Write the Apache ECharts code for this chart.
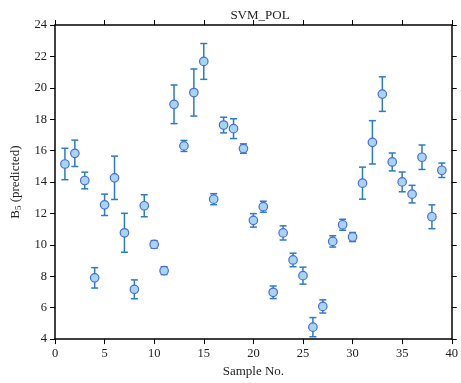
<!DOCTYPE html>
<html><head><meta charset="utf-8">
<script src="https://cdn.jsdelivr.net/npm/echarts@6/dist/echarts.min.js"></script>
<style>html,body{margin:0;padding:0;background:#fff}#c{width:461px;height:383px}</style>
</head><body><div id="c"></div>
<script>
var sampleNo = [1,2,3,4,5,6,7,8,9,10,11,12,13,14,15,16,17,18,19,20,21,22,23,24,25,26,27,28,29,30,31,32,33,34,35,36,37,38,39];
var predicted = [15.15,15.83,14.1,7.9,12.55,14.27,10.77,7.17,12.49,10.03,8.36,18.95,16.3,19.7,21.68,12.91,17.63,17.4,16.13,11.56,12.43,6.98,10.76,9.04,8.04,4.76,6.08,10.22,11.28,10.5,13.93,16.53,19.6,15.28,14.01,13.23,15.58,11.79,14.75];
var errors = [1.0,0.84,0.53,0.65,0.68,1.38,1.24,0.6,0.7,0.24,0.25,1.23,0.35,1.5,1.14,0.35,0.5,0.63,0.3,0.43,0.35,0.4,0.45,0.43,0.54,0.61,0.42,0.36,0.35,0.29,1.02,1.38,1.1,0.57,0.63,0.56,0.78,0.76,0.46];
var xTicks = [0,5,10,15,20,25,30,35,40];
var yTicks = [4,6,8,10,12,14,16,18,20,22,24];

var font = 'Liberation Serif';
var pts = sampleNo.map(function(s,i){return [s,predicted[i]];});
var errData = sampleNo.map(function(s,i){return [s,predicted[i]-errors[i],predicted[i]+errors[i]];});
var chart = echarts.init(document.getElementById('c'), null, {renderer:'canvas'});
var axisCommon = {
  axisLine:{show:true,onZero:false,lineStyle:{color:'#000',width:1.5}},
  axisTick:{show:true,inside:false,length:5,lineStyle:{color:'#000',width:1}},
  splitLine:{show:false}
};
chart.setOption({
  animation:false,
  title:{text:'SVM_POL',left:255,top:4,textAlign:'center',
    textStyle:{fontFamily:font,fontSize:13,fontWeight:'normal',color:'#222'}},
  grid:{left:55,right:6,top:25,bottom:42},
  xAxis:[
    Object.assign({type:'value',min:xTicks[0],max:xTicks[xTicks.length-1],interval:5,position:'bottom',
      name:'Sample No.',nameLocation:'middle',nameGap:24,
      nameTextStyle:{fontFamily:font,fontSize:13,color:'#222'},
      axisLabel:{fontFamily:font,fontSize:12.5,color:'#222',margin:8}},axisCommon),
    Object.assign({type:'value',min:xTicks[0],max:xTicks[xTicks.length-1],interval:5,position:'top',
      axisLabel:{show:false}},axisCommon)
  ],
  yAxis:[
    Object.assign({type:'value',min:yTicks[0],max:yTicks[yTicks.length-1],interval:2,position:'left',
      name:'{a|B}{s|5}{a| (predicted)}',nameLocation:'middle',nameGap:23,nameRotate:90,
      nameTextStyle:{fontFamily:font,fontSize:13,color:'#222',
        rich:{a:{fontFamily:font,fontSize:13,color:'#222'},s:{fontFamily:font,fontSize:9,color:'#222',verticalAlign:'bottom',padding:[8,0,0,0]}}},
      axisLabel:{fontFamily:font,fontSize:12.5,color:'#222',margin:8}},axisCommon),
    Object.assign({type:'value',min:yTicks[0],max:yTicks[yTicks.length-1],interval:2,position:'right',
      axisLabel:{show:false}},axisCommon)
  ],
  series:[
    {type:'custom',xAxisIndex:0,yAxisIndex:0,data:errData,z:2,
     renderItem:function(params,api){
       var x=api.value(0), lo=api.value(1), hi=api.value(2);
       var p1=api.coord([x,lo]), p2=api.coord([x,hi]);
       var w=3.5;
       var st={stroke:'#2a7cc8',lineWidth:1.5};
       return {type:'group',children:[
         {type:'line',shape:{x1:p1[0],y1:p1[1],x2:p2[0],y2:p2[1]},style:st},
         {type:'line',shape:{x1:p1[0]-w,y1:p1[1],x2:p1[0]+w,y2:p1[1]},style:st},
         {type:'line',shape:{x1:p2[0]-w,y1:p2[1],x2:p2[0]+w,y2:p2[1]},style:st}
       ]};
     }},
    {type:'scatter',xAxisIndex:0,yAxisIndex:0,data:pts,symbol:'circle',symbolSize:8.5,z:3,
     itemStyle:{color:'#a6d6ea',borderColor:'#4a68ee',borderWidth:1.2,opacity:1}}
  ]
});
</script></body></html>
